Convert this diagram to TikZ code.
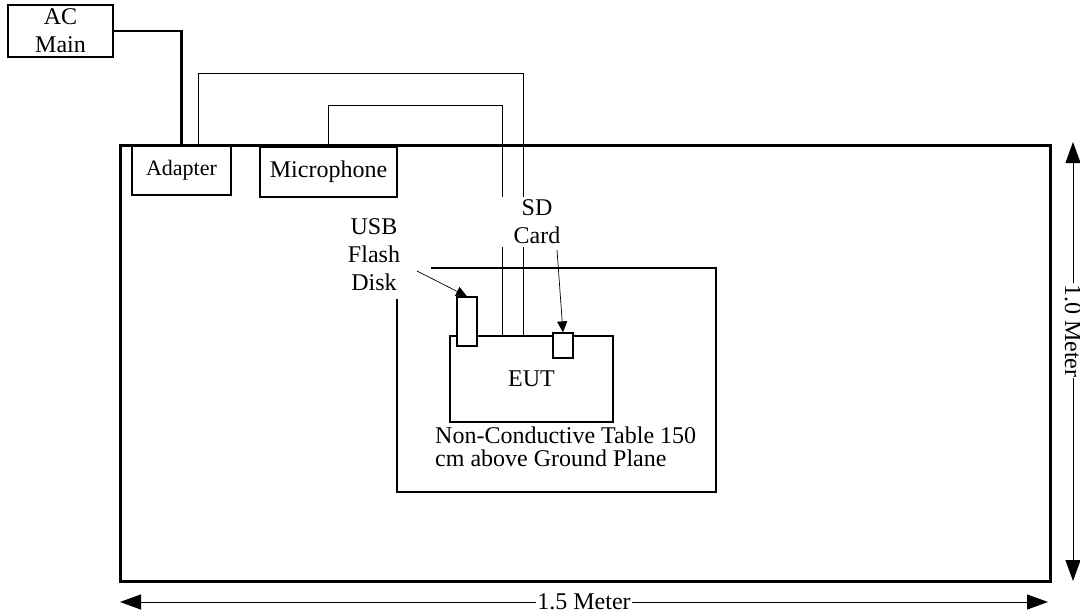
\documentclass[tikz,border=0pt]{standalone}
\usepackage{fontspec}
\setmainfont{Liberation Serif}
\usetikzlibrary{arrows.meta,positioning}

\tikzset{
  unit/.style={draw, line width=1.2pt, fill=white, inner sep=0pt, align=center},
  tag/.style={fill=white, inner sep=0pt, align=center},
  cable/.style={line width=0.8pt},
  dimline/.style={line width=0.9pt, {Triangle[length=21pt,width=15pt]}-{Triangle[length=21pt,width=15pt]}},
  pointer/.style={line width=0.7pt, -{Triangle[length=11pt,width=10pt]}},
}

\begin{document}
\begin{tikzpicture}[x=1pt,y=-1pt,font=\fontsize{24}{28}\selectfont]
    \useasboundingbox (0,0) rectangle (1080,616);

    % Ground plane and table
    \draw[line width=3pt] (120,145) rectangle (1050,581);
    \draw[line width=1.2pt] (397,268) rectangle (716,492);

    % Units
    \node[unit, minimum width=105pt, minimum height=52pt] (ac) at (60.5,31) {AC\\Main};
    \node[unit, minimum width=99pt, minimum height=49pt, font=\fontsize{22}{26}\selectfont] (adapter) at (181.5,170.5) {Adapter};
    \node[unit, minimum width=137pt, minimum height=50pt] (mic) at (328.5,172) {Microphone};
    \node[unit, minimum width=163pt, minimum height=86pt] (eut) at (531.5,379) {EUT};

    % Cables
    \coordinate (adp bend) at (523,73);
    \coordinate (mic bend) at (502,105);
    \draw[line width=2.5pt] (ac.east) -| (adapter.north);
    \draw[cable] ([xshift=16.5pt]adapter.north) |- (adp bend) -- (adp bend |- eut.north);
    \draw[cable] (mic.north) |- (mic bend) -- (mic bend |- eut.north);

    % Flash disk and card
    \node[unit, minimum width=20pt, minimum height=49pt] (usb) at (467,321.5) {};
    \node[unit, minimum width=20pt, minimum height=25pt] (sd) at (563,345.5) {};

    % Labels
    \node[tag, minimum width=114pt, minimum height=88pt] (usb tag) at (374,255) {USB\\Flash\\Disk};
    \node[tag, minimum width=84pt, minimum height=50pt] (sd tag) at (537,222) {SD\\Card};
    \node[anchor=base west, align=left, inner sep=0pt, font=\fontsize{24}{23}\selectfont] (table tag) at (435,466) {Non-Conductive Table 150\\cm above Ground Plane};

    \coordinate (usb from) at (417,271);
    \coordinate (sd from) at (557,250);
    \draw[pointer] (usb from) -- (usb.north);
    \draw[pointer] (sd from) -- (sd.north);

    % Dimensions
    \coordinate (h left) at (120,602);
    \coordinate (h right) at (1048,602);
    \coordinate (v top) at (1073,142);
    \coordinate (v bottom) at (1073,581);
    \draw[dimline] (h left) -- (h right) node[midway, fill=white, inner sep=1pt] (h label) {1.5 Meter};
    \draw[dimline] (v top) -- (v bottom) node[pos=0.43, fill=white, inner sep=1pt, rotate=-90] (v label) {1.0 Meter};
\end{tikzpicture}
\end{document}
